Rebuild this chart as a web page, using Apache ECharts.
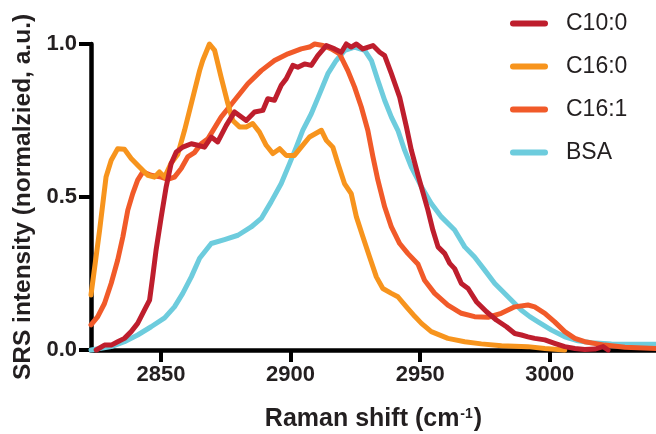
<!DOCTYPE html>
<html>
<head>
<meta charset="utf-8">
<script src="https://cdn.jsdelivr.net/npm/echarts@6/dist/echarts.min.js"></script>
<style>
  html, body { margin: 0; padding: 0; background: #fff; }
  #chart { width: 656px; height: 434px; }
</style>
</head>
<body>
<div id="chart"></div>
<script>
// 图例名称
const seriesNames = ['C10:0', 'C16:0', 'C16:1', 'BSA']

// 坐标轴刻度
const xTicks = [2850, 2900, 2950, 3000]
const yTicks = [0, 0.5, 1]

// [拉曼位移, 归一化强度]
const c10_0 = [
  [2825.0, 0], [2828.2, 0.016], [2830.8, 0.016], [2833.3, 0.027], [2835.9, 0.038],
  [2838.5, 0.06], [2841.0, 0.087], [2843.6, 0.13], [2845.6, 0.163], [2846.8, 0.239],
  [2848.1, 0.326], [2850.1, 0.435], [2852.0, 0.533], [2853.9, 0.609], [2855.9, 0.647],
  [2858.4, 0.663], [2861.7, 0.674], [2864.2, 0.669], [2866.8, 0.663], [2869.4, 0.696],
  [2871.9, 0.68], [2875.2, 0.734], [2878.4, 0.778], [2882.9, 0.75], [2886.1, 0.778],
  [2889.3, 0.783], [2891.2, 0.821], [2893.8, 0.816], [2896.4, 0.865], [2898.3, 0.886],
  [2900.9, 0.93], [2902.8, 0.924], [2905.4, 0.935], [2908.0, 0.93], [2910.5, 0.962],
  [2913.8, 0.995], [2917.0, 0.984], [2919.6, 0.973], [2921.5, 1.0], [2923.4, 0.99],
  [2925.4, 1.0], [2927.9, 0.984], [2931.8, 0.995], [2934.4, 0.973], [2936.3, 0.962],
  [2938.9, 0.903], [2942.1, 0.826], [2944.7, 0.729], [2946.6, 0.653], [2949.2, 0.571],
  [2953.0, 0.457], [2954.9, 0.392], [2956.9, 0.337], [2959.5, 0.315], [2961.4, 0.283],
  [2963.3, 0.266], [2965.9, 0.217], [2968.5, 0.201], [2971.7, 0.158], [2975.6, 0.125],
  [2979.4, 0.098], [2983.3, 0.076], [2986.5, 0.054], [2989.1, 0.049], [2991.6, 0.043],
  [2994.2, 0.038], [2998.1, 0.033], [3001.9, 0.022], [3005.8, 0.011], [3009.7, 0.005],
  [3013.5, 0.002], [3017.4, 0.003], [3020.6, 0.011], [3022.5, 0]
]

const c16_0 = [
  [2823.0, 0.18], [2826.3, 0.39], [2828.8, 0.565], [2830.8, 0.62], [2833.3, 0.658],
  [2835.9, 0.656], [2838.5, 0.626], [2841.7, 0.598], [2844.9, 0.571], [2847.5, 0.565],
  [2849.4, 0.582], [2851.4, 0.565], [2853.9, 0.61], [2856.5, 0.64], [2859.1, 0.718],
  [2861.7, 0.805], [2864.9, 0.913], [2866.1, 0.946], [2868.7, 1.0], [2870.7, 0.979],
  [2873.2, 0.892], [2875.8, 0.805], [2877.7, 0.75], [2880.3, 0.729], [2882.9, 0.729],
  [2885.4, 0.74], [2888.0, 0.712], [2890.6, 0.669], [2893.2, 0.642], [2895.8, 0.658],
  [2898.3, 0.636], [2901.5, 0.636], [2904.1, 0.663], [2907.3, 0.696], [2911.9, 0.718],
  [2913.8, 0.685], [2916.3, 0.663], [2918.3, 0.609], [2920.8, 0.544], [2923.4, 0.511],
  [2925.4, 0.435], [2927.9, 0.37], [2930.5, 0.304], [2933.1, 0.239], [2935.6, 0.201],
  [2938.9, 0.185], [2941.4, 0.174], [2944.7, 0.141], [2947.9, 0.11], [2950.5, 0.087],
  [2954.3, 0.06], [2960.7, 0.038], [2967.2, 0.027], [2973.6, 0.02], [2981.4, 0.014],
  [2991.5, 0.011], [2998.1, 0.005], [3005.8, 0]
]

const c16_1 = [
  [2823.0, 0.082], [2825.6, 0.109], [2828.2, 0.152], [2830.8, 0.218], [2833.3, 0.294],
  [2835.3, 0.37], [2837.2, 0.457], [2839.1, 0.511], [2841.0, 0.555], [2843.0, 0.582],
  [2846.2, 0.571], [2850.1, 0.565], [2852.6, 0.558], [2855.2, 0.565], [2857.8, 0.593],
  [2860.3, 0.631], [2862.9, 0.645], [2865.5, 0.674], [2868.1, 0.69], [2873.2, 0.761],
  [2878.4, 0.816], [2883.5, 0.87], [2888.7, 0.913], [2893.8, 0.946], [2899.0, 0.968],
  [2904.1, 0.984], [2907.3, 0.99], [2909.3, 1.0], [2912.5, 0.995], [2915.7, 0.984],
  [2918.9, 0.968], [2922.1, 0.913], [2924.7, 0.859], [2927.3, 0.794], [2929.8, 0.718],
  [2931.8, 0.631], [2933.7, 0.555], [2936.3, 0.468], [2938.9, 0.402], [2942.1, 0.348],
  [2945.3, 0.315], [2949.2, 0.28], [2951.7, 0.228], [2955.6, 0.185], [2960.7, 0.147],
  [2965.9, 0.12], [2971.0, 0.109], [2976.2, 0.107], [2981.3, 0.12], [2986.5, 0.141],
  [2991.6, 0.147], [2994.2, 0.141], [2998.1, 0.12], [3001.9, 0.092], [3005.8, 0.06],
  [3009.7, 0.038], [3013.5, 0.027], [3021.2, 0.016], [3029.0, 0.009], [3041.0, 0.005]
]

const bsa = [
  [2823.0, 0], [2830.8, 0.011], [2835.9, 0.027], [2841.0, 0.049], [2846.2, 0.076],
  [2851.4, 0.105], [2855.2, 0.141], [2858.4, 0.185], [2861.7, 0.239], [2864.9, 0.3],
  [2869.4, 0.348], [2874.5, 0.361], [2879.7, 0.375], [2884.8, 0.402], [2888.7, 0.43],
  [2892.5, 0.484], [2896.4, 0.544], [2899.6, 0.609], [2902.2, 0.663], [2904.7, 0.718],
  [2908.0, 0.772], [2911.2, 0.837], [2914.4, 0.903], [2917.6, 0.946], [2920.9, 0.979],
  [2924.7, 0.99], [2928.6, 0.979], [2931.2, 0.946], [2933.7, 0.881], [2936.3, 0.816],
  [2938.9, 0.761], [2941.4, 0.718], [2944.0, 0.653], [2946.6, 0.598], [2949.2, 0.555],
  [2950.5, 0.533], [2954.3, 0.479], [2958.2, 0.435], [2963.3, 0.392], [2967.2, 0.337],
  [2971.0, 0.304], [2974.9, 0.261], [2978.8, 0.217], [2983.9, 0.174], [2989.1, 0.13],
  [2992.3, 0.109], [2995.5, 0.092], [3000.7, 0.065], [3005.8, 0.043], [3010.9, 0.03],
  [3016.1, 0.024], [3023.8, 0.02], [3041.0, 0.019]
]

const seriesData = [c10_0, c16_0, c16_1, bsa]
const colors = ['#BE1E2D', '#F7941D', '#F15A29', '#6DCCDD']
const zLevels = [5, 4, 3, 2]

const font = "'Liberation Sans', Arial, Helvetica, sans-serif"
const ink = '#231F20'
const tickLen = 12
const xMin = 2823
const xMax = 3041

const chart = echarts.init(document.getElementById('chart'))

// 组装配置，f 里的开关用来去掉某些可能挡住刻度的设置
const makeOption = (f = {}) => {
  const label = f.plainLabels
    ? { fontSize: 22, fontWeight: 'bold', color: ink }
    : { margin: 14, fontFamily: font, fontSize: 22, fontWeight: 'bold', color: ink }
  const tickLine = { color: '#000', width: 4 }
  return {
    animation: false,
    backgroundColor: f.noBg ? 'transparent' : '#fff',
    grid: { left: 91, right: 0, top: 44, bottom: 84, outerBoundsMode: 'none' },
    legend: {
      data: seriesNames,
      orient: 'vertical',
      left: f.plainLegend ? 518 : 505,
      top: 7,
      itemWidth: 38,
      itemHeight: 6,
      itemGap: 20,
      icon: f.plainLegend ? 'roundRect' : 'path://M3,0 H35 A3,3 0 0 1 35,6 H3 A3,3 0 0 1 3,0 Z',
      textStyle: f.plainLegend
        ? { fontFamily: font, fontSize: 23, color: ink }
        : { fontFamily: font, fontSize: 23, lineHeight: 23, color: ink, padding: [0, 0, 0, 13] }
    },
    xAxis: {
      type: 'value',
      min: xMin,
      max: xMax,
      name: f.plainNames ? 'Raman shift (cm⁻¹)' : '{a|Raman shift (cm}{b|-1}{a|)}',
      nameLocation: 'middle',
      nameGap: 57,
      nameTextStyle: f.plainNames
        ? { fontFamily: font, fontSize: 25, fontWeight: 'bold', color: ink }
        : {
            rich: {
              a: { fontFamily: font, fontSize: 25, fontWeight: 'bold', color: ink },
              b: { fontFamily: font, fontSize: 14, fontWeight: 'bold', color: ink, verticalAlign: 'top', padding: [0, 1, 0, 1] }
            }
          },
      axisLine: { onZero: false, lineStyle: { color: '#000', width: 4.5 } },
      axisTick: { show: true, length: tickLen, customValues: xTicks, lineStyle: tickLine },
      axisLabel: Object.assign({ customValues: xTicks, formatter: v => String(v) }, label),
      splitLine: { show: false }
    },
    yAxis: {
      type: 'value',
      min: 0,
      max: 1,
      interval: 0.5,
      name: 'SRS intensity (normalzied, a.u.)',
      nameLocation: 'middle',
      nameGap: 55,
      nameTextStyle: { fontFamily: font, fontSize: 24.5, fontWeight: 'bold', color: ink },
      axisLine: { show: true, lineStyle: { color: '#000', width: 4.5 } },
      axisTick: { show: true, length: tickLen, lineStyle: tickLine },
      axisLabel: Object.assign({ formatter: v => (yTicks.includes(v) ? v.toFixed(1) : '') }, label),
      splitLine: { show: false }
    },
    series: seriesNames.map((name, i) => (f.plainSeries
      ? { name, type: 'line', data: seriesData[i], symbol: 'none', color: colors[i], lineStyle: { width: 5, color: colors[i] } }
      : {
          name,
          type: 'line',
          data: seriesData[i],
          z: zLevels[i],
          symbol: 'none',
          showSymbol: false,
          clip: false,
          color: colors[i],
          lineStyle: { width: 5, color: colors[i], cap: 'round', join: 'round' }
        }))
  }
}

// 刻度位置：用坐标轴换算，换算失败时按网格比例算
const toPixel = (x, y) => {
  let p = null
  try { p = chart.convertToPixel({ gridIndex: 0 }, [x, y]) } catch (e) { p = null }
  if (!p || !isFinite(p[0]) || !isFinite(p[1])) {
    p = [91 + (x - xMin) / (xMax - xMin) * 565, 350 - y * 306]
  }
  return p
}

const isDark = (x, y) => {
  const cvs = chart.getDom().getElementsByTagName('canvas')[0]
  if (!cvs) return false
  const d = cvs.getContext('2d').getImageData(Math.round(x) - 1, Math.round(y) - 1, 3, 3).data
  let n = 0
  for (let i = 0; i < d.length; i += 4) {
    if (d[i + 3] > 200 && d[i] + d[i + 1] + d[i + 2] < 240) n++
  }
  return n >= 3
}

const ticksShown = () => {
  chart.getZr().refreshImmediately()
  const [tx, ty] = toPixel(xTicks[0], 0)
  const [ux, uy] = toPixel(xMin, 0.5)
  return isDark(tx, ty + tickLen / 2 + 1) && isDark(ux - tickLen / 2 - 1, uy)
}

const variants = [
  {},
  { noBg: true },
  { plainLegend: true },
  { plainLabels: true },
  { plainSeries: true },
  { plainNames: true },
  { noBg: true, plainLegend: true, plainLabels: true, plainSeries: true },
  { noBg: true, plainLegend: true, plainLabels: true, plainSeries: true, plainNames: true }
]

let found = false
for (const f of variants) {
  chart.setOption(makeOption(f), true)
  if (ticksShown()) { found = true; break }
}

if (!found) {
  // 都不行：回到原配置，在单独的图层上补画刻度
  chart.setOption(makeOption({}), true)
  const marks = []
  xTicks.forEach(v => {
    const [px, py] = toPixel(v, 0)
    marks.push({ type: 'rect', zlevel: 1, z: 100, silent: true, shape: { x: px - 2, y: py, width: 4, height: tickLen }, style: { fill: '#000' } })
  })
  yTicks.forEach(v => {
    const [px, py] = toPixel(xMin, v)
    marks.push({ type: 'rect', zlevel: 1, z: 100, silent: true, shape: { x: px - tickLen, y: py - 2, width: tickLen, height: 4 }, style: { fill: '#000' } })
  })
  chart.setOption({ graphic: { elements: marks } })
}
</script>
</body>
</html>
